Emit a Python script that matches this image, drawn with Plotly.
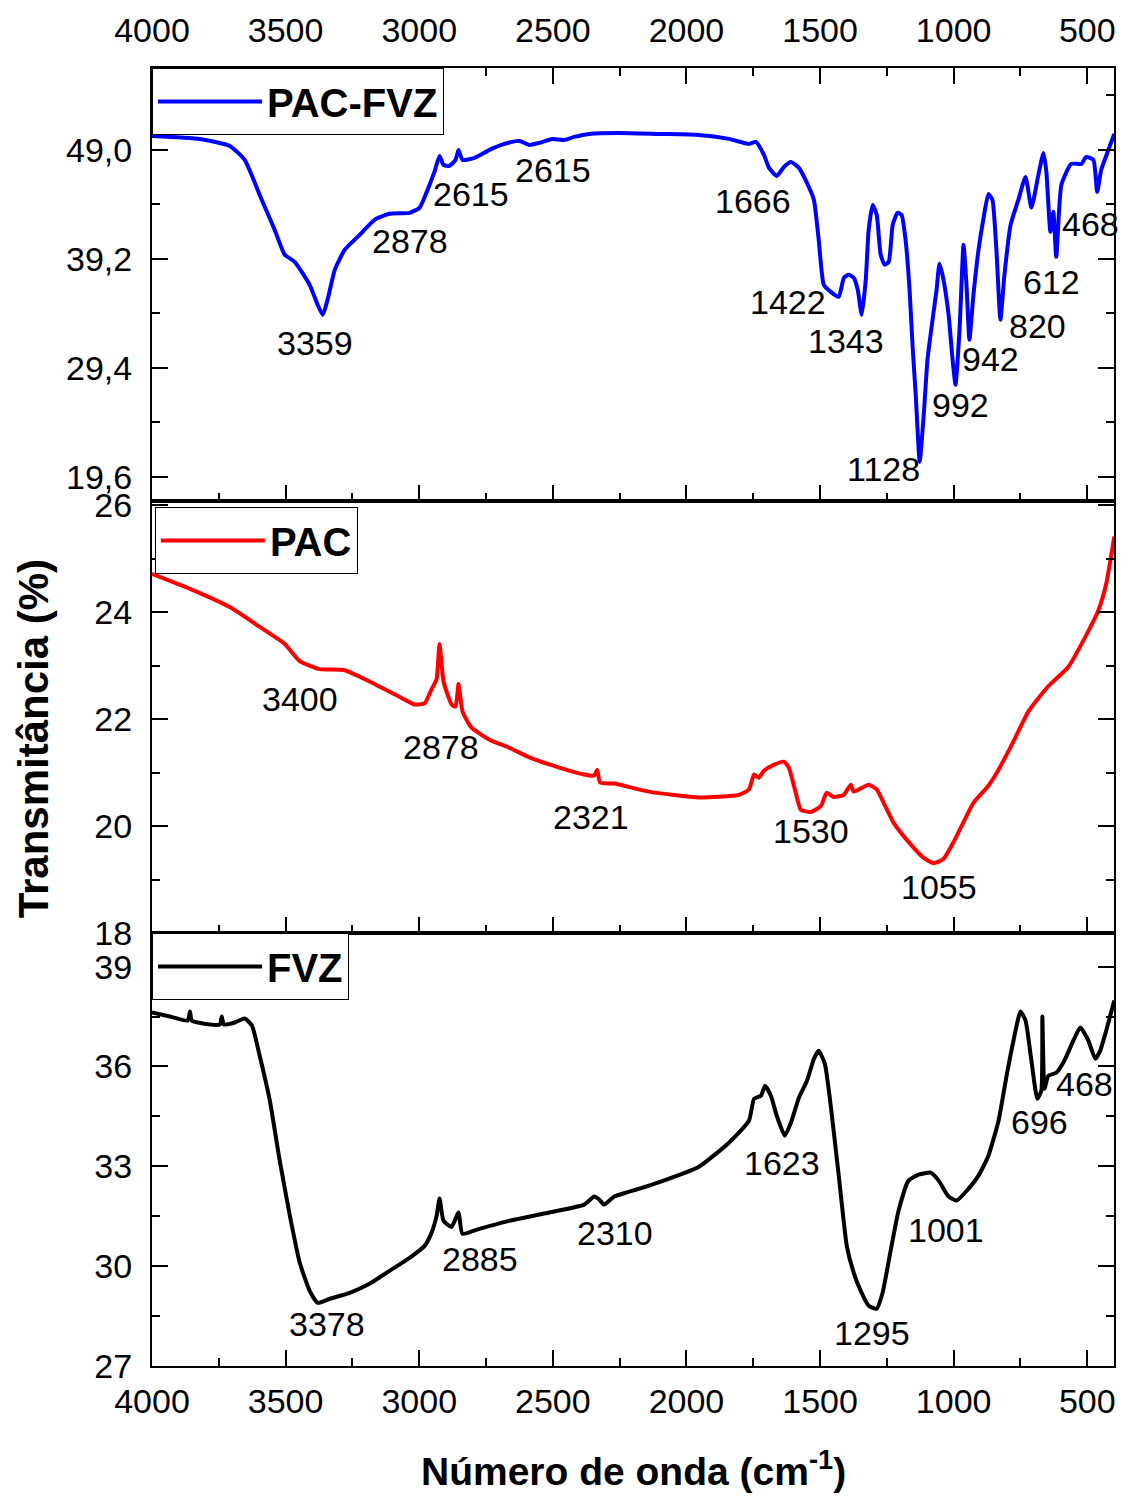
import plotly.graph_objects as go

# ---------------- data ----------------
# PAC-FVZ (blue, top panel)
wn_pacfvz = [4000, 3821, 3709, 3653, 3597, 3541, 3503, 3466, 3410, 3380, 3361, 3343, 3316, 3279,
             3223, 3167, 3111, 3036, 2999, 2969, 2943, 2924, 2909, 2887, 2864, 2853, 2838, 2793,
             2737, 2681, 2625, 2588, 2551, 2502, 2457, 2420, 2364, 2252, 2102, 1953, 1841, 1766,
             1740, 1710, 1691, 1662, 1635, 1609, 1579, 1549, 1523, 1505, 1486, 1460, 1430, 1411,
             1393, 1374, 1359, 1344, 1329, 1318, 1303, 1288, 1273, 1258, 1243, 1228, 1210, 1195,
             1180, 1165, 1154, 1142, 1127, 1112, 1098, 1079, 1064, 1053, 1038, 1019, 1004, 993,
             978, 963, 952, 941, 926, 907, 888, 870, 855, 840, 825, 810, 787, 758, 731, 709, 683,
             664, 653, 638, 627, 616, 597, 560, 522, 504, 477, 463, 448, 421, 399]
t_pacfvz = [50.26, 49.99, 49.36, 48.10, 44.95, 41.81, 39.56, 38.93, 36.86, 35.06, 34.16, 35.51,
            38.21, 40.01, 41.36, 42.71, 43.25, 43.34, 43.79, 45.40, 47.02, 48.46, 47.65, 47.56,
            48.10, 49.00, 48.10, 48.28, 49.00, 49.54, 49.81, 49.45, 49.63, 49.99, 49.90, 50.17,
            50.44, 50.53, 50.44, 50.35, 49.99, 49.54, 49.72, 48.55, 47.38, 46.66, 47.47, 47.92,
            47.38, 46.03, 44.50, 40.91, 36.86, 36.23, 35.78, 37.49, 37.76, 37.49, 36.41, 34.16,
            37.31, 41.81, 44.05, 43.16, 39.56, 38.66, 38.93, 42.26, 43.34, 43.16, 40.91, 36.41,
            31.47, 26.97, 20.95, 25.17, 30.12, 33.72, 36.41, 38.75, 37.31, 34.16, 30.12, 27.87,
            32.82, 40.46, 36.86, 31.92, 35.96, 40.01, 42.89, 45.04, 44.50, 40.01, 33.72, 37.76,
            42.26, 44.50, 46.57, 43.79, 46.75, 48.73, 47.02, 41.63, 43.43, 39.38, 45.85, 47.74,
            47.74, 48.37, 48.10, 45.22, 47.20, 49.00, 50.44]

# PAC (red, middle panel)
wn_pac = [4000, 3858, 3709, 3597, 3503, 3447, 3372, 3279, 3186, 3092, 3018, 2980, 2954, 2935,
          2924, 2909, 2879, 2864, 2853, 2838, 2805, 2737, 2663, 2588, 2476, 2383, 2345, 2334,
          2323, 2270, 2140, 1953, 1804, 1766, 1747, 1729, 1710, 1673, 1635, 1617, 1594, 1572,
          1535, 1497, 1475, 1449, 1411, 1385, 1374, 1318, 1288, 1262, 1225, 1169, 1112, 1075,
          1038, 1000, 963, 926, 870, 832, 776, 720, 646, 571, 496, 459, 429, 399]
t_pac = [24.72, 24.44, 24.10, 23.73, 23.41, 23.09, 22.94, 22.92, 22.71, 22.47, 22.28, 22.30,
         22.56, 22.75, 23.41, 22.71, 22.28, 22.24, 22.66, 22.15, 21.85, 21.62, 21.47, 21.29,
         21.10, 20.97, 20.95, 21.06, 20.82, 20.80, 20.65, 20.54, 20.59, 20.69, 20.97, 20.91,
         21.04, 21.15, 21.21, 21.10, 20.69, 20.31, 20.27, 20.38, 20.63, 20.55, 20.59, 20.78,
         20.65, 20.78, 20.69, 20.44, 20.07, 19.71, 19.41, 19.31, 19.39, 19.71, 20.08, 20.44,
         20.76, 21.06, 21.59, 22.15, 22.62, 22.98, 23.65, 24.03, 24.54, 25.42]

# FVZ (black, bottom panel)
wn_fvz = [4000, 3933, 3866, 3858, 3851, 3783, 3746, 3739, 3731, 3690, 3653, 3626, 3597, 3559,
          3522, 3484, 3447, 3410, 3380, 3335, 3260, 3186, 3111, 3036, 2980, 2954, 2935, 2924,
          2909, 2879, 2853, 2838, 2775, 2663, 2513, 2383, 2345, 2326, 2308, 2270, 2140, 1953,
          1841, 1766, 1747, 1721, 1706, 1684, 1662, 1632, 1609, 1579, 1549, 1523, 1505, 1482,
          1460, 1430, 1400, 1374, 1348, 1318, 1288, 1266, 1236, 1206, 1169, 1131, 1086, 1056,
          1019, 989, 944, 907, 870, 832, 802, 776, 750, 731, 709, 687, 672, 668, 660, 646, 616,
          586, 552, 526, 496, 470, 452, 429, 399]
t_fvz = [37.62, 37.50, 37.38, 37.65, 37.38, 37.26, 37.26, 37.50, 37.26, 37.32, 37.44, 37.23,
         36.32, 34.97, 33.17, 31.51, 30.10, 29.26, 28.90, 29.02, 29.20, 29.47, 29.86, 30.25,
         30.61, 31.00, 31.51, 32.03, 31.36, 31.18, 31.61, 30.97, 31.12, 31.36, 31.61, 31.85,
         32.09, 32.00, 31.85, 32.09, 32.42, 32.99, 33.71, 34.37, 35.03, 35.12, 35.42, 35.12,
         34.52, 33.92, 34.31, 35.06, 35.57, 36.23, 36.47, 36.08, 34.82, 32.72, 30.61, 29.80,
         29.26, 28.81, 28.72, 29.20, 30.46, 31.67, 32.57, 32.75, 32.81, 32.57, 32.09, 31.97,
         32.33, 32.72, 33.32, 34.37, 35.72, 36.78, 37.65, 37.38, 36.17, 35.03, 35.27, 37.50,
         35.33, 35.72, 35.81, 36.17, 36.78, 37.17, 36.78, 36.23, 36.47, 37.08, 37.98]

# peak labels: (text, wavenumber position, transmittance position)
lab_pacfvz_text = ["3359", "2878", "2615", "2615", "1666", "1422", "1343", "1128", "992", "942", "820", "612", "468"]
lab_pacfvz_x = [3391, 3033, 2805, 2498, 1751, 1620, 1404, 1262, 974, 862, 687, 634, 489]
lab_pacfvz_y = [31.65, 40.82, 45.04, 47.20, 44.41, 35.33, 31.83, 20.32, 26.07, 30.21, 33.18, 37.13, 42.35]

lab_pac_text = ["3400", "2878", "2321", "1530", "1055"]
lab_pac_x = [3447, 2920, 2356, 1535, 1056]
lab_pac_y = [22.38, 21.49, 20.18, 19.92, 18.86]

lab_fvz_text = ["3378", "2885", "2310", "1623", "1295", "1001", "696", "468"]
lab_fvz_x = [3346, 2771, 2267, 1643, 1307, 1027, 679, 511]
lab_fvz_y = [28.27, 30.22, 31.00, 33.11, 28.00, 31.09, 34.34, 35.48]

FONT = "Liberation Sans, Arial, sans-serif"
FS = 34

fig = go.Figure()
fig.add_trace(go.Scatter(x=wn_pacfvz, y=t_pacfvz, mode="lines", name="<b>PAC-FVZ</b>",
                         line=dict(color="#0000FF", width=4, shape="spline", smoothing=0.5),
                         xaxis="x", yaxis="y", legend="legend"))
fig.add_trace(go.Scatter(x=wn_pac, y=t_pac, mode="lines", name="<b>PAC</b>",
                         line=dict(color="#FF0000", width=4, shape="spline", smoothing=0.5),
                         xaxis="x2", yaxis="y2", legend="legend2"))
fig.add_trace(go.Scatter(x=wn_fvz, y=t_fvz, mode="lines", name="<b>FVZ</b>",
                         line=dict(color="#000000", width=4, shape="spline", smoothing=0.5),
                         xaxis="x3", yaxis="y3", legend="legend3"))

tickfont = dict(size=FS, family=FONT, color="black")
base = dict(showline=True, linecolor="black", linewidth=2, ticks="inside", ticklen=16,
            tickwidth=2, tickcolor="black", tickfont=tickfont, showgrid=False, zeroline=False)
xminor = dict(dtick=250, ticklen=8, tickwidth=2, ticks="inside", tickcolor="black", showgrid=False)


def yminor(d):
    return dict(dtick=d, ticklen=8, tickwidth=2, ticks="inside", tickcolor="black", showgrid=False)


fig.update_layout(
    width=1123, height=1497,
    margin=dict(l=152, r=7, t=68, b=131),
    plot_bgcolor="white", paper_bgcolor="white",
    separators=",.",
    showlegend=True,
    xaxis=dict(base, range=[4000, 400], tick0=0, dtick=500, side="top", mirror="ticks",
               anchor="y", minor=xminor, ticklabelstandoff=10),
    xaxis2=dict(base, range=[4000, 400], tick0=0, dtick=500, side="bottom", mirror=True,
                showticklabels=False, anchor="y2", minor=xminor),
    xaxis3=dict(base, range=[4000, 400], tick0=0, dtick=500, side="bottom", mirror=True,
                anchor="y3", minor=xminor, ticklabelstandoff=4),
    yaxis=dict(base, domain=[2/3, 1], range=[17.44, 56.37], tick0=19.6, dtick=9.8,
               tickformat=".1f", mirror="ticks", anchor="x", ticklabelstandoff=11,
               minor=dict(yminor(4.9), tick0=19.6)),
    yaxis2=dict(base, domain=[1/3, 2/3], range=[18, 26.09], tick0=0, dtick=2,
                mirror="ticks", anchor="x2", ticklabelstandoff=11, minor=yminor(1)),
    yaxis3=dict(base, domain=[0, 1/3], range=[27, 40], tick0=0, dtick=3,
                mirror="ticks", anchor="x3", ticklabelstandoff=11, minor=yminor(1.5)),
)

legend_common = dict(xref="paper", yref="paper", xanchor="left", yanchor="top",
                     bordercolor="black", borderwidth=1, bgcolor="white",
                     font=dict(size=40, family=FONT, color="black"), itemwidth=104)
fig.update_layout(
    legend=dict(legend_common, x=0.0, y=1.0),
    legend2=dict(legend_common, x=0.003, y=0.6618),
    legend3=dict(legend_common, x=0.0, y=0.3336),
)

annots = []
for txts, xs, ys, ax in [(lab_pacfvz_text, lab_pacfvz_x, lab_pacfvz_y, ("x", "y")),
                         (lab_pac_text, lab_pac_x, lab_pac_y, ("x2", "y2")),
                         (lab_fvz_text, lab_fvz_x, lab_fvz_y, ("x3", "y3"))]:
    for t, xv, yv in zip(txts, xs, ys):
        annots.append(dict(text=t, x=xv, y=yv, xref=ax[0], yref=ax[1], showarrow=False,
                           xanchor="center", yanchor="middle",
                           font=dict(size=FS, family=FONT, color="black")))

annots.append(dict(text="<b>Transmitância (%)</b>", xref="paper", yref="paper",
                   x=-0.1234, y=0.483, textangle=-90, showarrow=False,
                   xanchor="center", yanchor="middle",
                   font=dict(size=42, family=FONT, color="black")))
annots.append(dict(text="<b>Número de onda (cm<sup>-1</sup>)</b>", xref="paper", yref="paper",
                   x=0.5, y=-0.079, showarrow=False, xanchor="center", yanchor="middle",
                   font=dict(size=39, family=FONT, color="black")))
fig.update_layout(annotations=annots)

fig.write_html("out.html")
